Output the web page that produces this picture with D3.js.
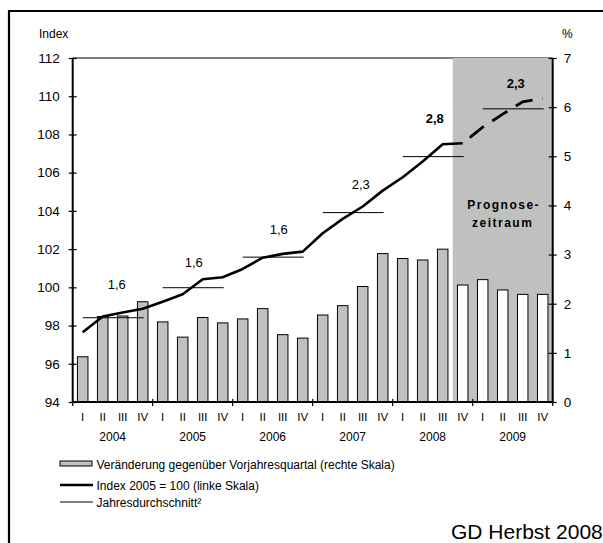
<!DOCTYPE html>
<html><head><meta charset="utf-8">
<script src="https://cdn.jsdelivr.net/npm/d3@7"></script>
<style>
html,body{margin:0;padding:0;background:#fff;}
svg{display:block;font-family:"Liberation Sans",Arial,sans-serif;}
</style></head>
<body><svg id="c" width="603" height="543"></svg>
<script>
// ---- data ----
const quarterLabels = ["I","II","III","IV"];
const years = ["2004","2005","2006","2007","2008","2009"];
const growth = [0.92,1.74,1.75,2.04, 1.63,1.32,1.72,1.61, 1.69,1.90,1.37,1.30,
                1.77,1.96,2.35,3.02, 2.92,2.89,3.11,2.38, 2.49,2.28,2.19,2.19];
const indexValues = [97.65,98.47,98.68,98.88, 99.25,99.64,100.42,100.53, 100.96,101.55,101.75,101.87,
                     102.83,103.58,104.23,105.06, 105.76,106.58,107.49,107.54, 108.38,109.06,109.71,109.89];
const forecastStart = 19; // 2008 IV
const annualAvg = [98.41,99.98,101.58,103.91,106.84,109.34];
const annualGrowth = ["1,6","1,6","1,6","2,3","2,8","2,3"];
const annualBold = [false,false,false,false,true,true];
const labelLevel = [100.18,101.30,103.05,105.42,108.88,110.71];
const labelNudge = [4,1,6,8,2,3];
const leftTicks = [94,96,98,100,102,104,106,108,110,112];
const rightTicks = [0,1,2,3,4,5,6,7];

// ---- layout ----
const svg = d3.select("#c");
const L = 72.7, R = 552.7, T = 58, B = 402;
const n = growth.length;
const x = d3.scaleBand().domain(d3.range(n)).range([L,R]).paddingInner(0.475).paddingOuter(0.2375);
const cx = i => x(i) + x.bandwidth()/2;
const yL = d3.scaleLinear().domain([94,112]).range([B,T]);
const yR = d3.scaleLinear().domain([0,7]).range([B,T]);

// outer frame
svg.append("line").attr("x1",9).attr("x2",603).attr("y1",11).attr("y2",11).attr("stroke","#000").attr("stroke-width",2.2);
svg.append("line").attr("x1",9).attr("x2",9).attr("y1",10).attr("y2",543).attr("stroke","#000").attr("stroke-width",2.2);

// top plot border
svg.append("line").attr("x1",L).attr("x2",R).attr("y1",T).attr("y2",T).attr("stroke","#000").attr("stroke-width",1.2);

// forecast shading
const shadeX = x(forecastStart) - x.step()*x.paddingInner()/2;
svg.append("rect").attr("x",shadeX).attr("y",T).attr("width",R-shadeX).attr("height",B-T).attr("fill","#c0c0c0");

svg.append("text").attr("x",(shadeX+R)/2+1).attr("y",209).attr("text-anchor","middle")
  .attr("font-size",12).attr("font-weight","bold").attr("letter-spacing",1.5).text("Prognose-");
svg.append("text").attr("x",(shadeX+R)/2).attr("y",227).attr("text-anchor","middle")
  .attr("font-size",12).attr("font-weight","bold").attr("letter-spacing",1.5).text("zeitraum");

// bars
svg.append("g").selectAll("rect").data(growth).join("rect")
  .attr("x",(d,i)=>x(i)).attr("width",x.bandwidth())
  .attr("y",d=>yR(d)).attr("height",d=>B-yR(d))
  .attr("fill",(d,i)=>i>=forecastStart?"#fff":"#c0c0c0")
  .attr("stroke","#000").attr("stroke-width",1);

// annual averages
svg.append("g").selectAll("line").data(annualAvg).join("line")
  .attr("x1",(d,i)=>cx(i*4)).attr("x2",(d,i)=>cx(i*4+3)+1)
  .attr("y1",d=>yL(d)).attr("y2",d=>yL(d))
  .attr("stroke","#000").attr("stroke-width",1);

// index line
const line = d3.line().x(d=>cx(d.i)).y(d=>yL(d.v));
const pts = indexValues.map((v,i)=>({i,v}));
svg.append("path").attr("d",line(pts.slice(0,forecastStart+1)))
  .attr("fill","none").attr("stroke","#000").attr("stroke-width",2.6).attr("stroke-linejoin","round");
svg.append("path").attr("d",line(pts.slice(forecastStart)))
  .attr("fill","none").attr("stroke","#000").attr("stroke-width",2.8)
  .attr("stroke-dasharray","18,10").attr("stroke-dashoffset",19);

// annual growth labels
svg.append("g").selectAll("text").data(annualGrowth).join("text")
  .attr("x",(d,i)=>(cx(i*4)+cx(i*4+3))/2+labelNudge[i])
  .attr("y",(d,i)=>yL(labelLevel[i])+5)
  .attr("text-anchor","middle").attr("font-size",13)
  .attr("font-weight",(d,i)=>annualBold[i]?"bold":"normal").text(d=>d);

// left axis
const gl = svg.append("g").attr("transform",`translate(${L},0)`)
  .call(d3.axisLeft(yL).tickValues(leftTicks).tickSize(4).tickPadding(9).tickFormat(d3.format("d")));
gl.select(".domain").remove();
gl.selectAll(".tick line").attr("x1",-4).attr("x2",4).attr("stroke-width",1.2);
gl.selectAll("text").attr("font-size",13.5).attr("font-family","Liberation Sans, Arial, sans-serif").attr("fill","#000");
svg.append("line").attr("x1",L).attr("x2",L).attr("y1",T).attr("y2",B).attr("stroke","#000").attr("stroke-width",2);

// right axis
const gr = svg.append("g").attr("transform",`translate(${R},0)`)
  .call(d3.axisRight(yR).tickValues(rightTicks).tickSize(4).tickPadding(7).tickFormat(d3.format("d")));
gr.select(".domain").remove();
gr.selectAll(".tick line").attr("x1",-4).attr("x2",4).attr("stroke-width",1.2);
gr.selectAll("text").attr("font-size",13.5).attr("font-family","Liberation Sans, Arial, sans-serif").attr("fill","#000");
svg.append("line").attr("x1",R).attr("x2",R).attr("y1",T).attr("y2",B).attr("stroke","#000").attr("stroke-width",2);

// x axis
svg.append("line").attr("x1",L).attr("x2",R).attr("y1",B).attr("y2",B).attr("stroke","#000").attr("stroke-width",2);
const yearEdges = d3.range(years.length+1).map(k=>k*4);
svg.append("g").selectAll("line").data(yearEdges).join("line")
  .attr("x1",k=>k<n?x(k)-x.step()*x.paddingInner()/2:R).attr("x2",k=>k<n?x(k)-x.step()*x.paddingInner()/2:R)
  .attr("y1",B-3).attr("y2",B+4).attr("stroke","#000").attr("stroke-width",1.2);
svg.append("g").selectAll("text").data(d3.range(n)).join("text")
  .attr("x",i=>cx(i)).attr("y",421).attr("text-anchor","middle").attr("font-size",11.5)
  .text(i=>quarterLabels[i%4]);
svg.append("g").selectAll("text").data(years).join("text")
  .attr("x",(d,k)=>(cx(k*4)+cx(k*4+3))/2).attr("y",441).attr("text-anchor","middle").attr("font-size",12)
  .text(d=>d);

// axis titles
svg.append("text").attr("x",39).attr("y",38).attr("font-size",12).text("Index");
svg.append("text").attr("x",562).attr("y",38).attr("font-size",12).text("%");

// legend
const lg = svg.append("g");
lg.append("rect").attr("x",60).attr("y",461).attr("width",32).attr("height",5).attr("fill","#c0c0c0").attr("stroke","#000").attr("stroke-width",1);
lg.append("text").attr("x",96.5).attr("y",468.5).attr("font-size",12).text("Veränderung gegenüber Vorjahresquartal (rechte Skala)");
lg.append("line").attr("x1",60).attr("x2",93).attr("y1",485).attr("y2",485).attr("stroke","#000").attr("stroke-width",2.6);
lg.append("text").attr("x",96.5).attr("y",489.5).attr("font-size",12).text("Index 2005 = 100 (linke Skala)");
lg.append("line").attr("x1",60).attr("x2",93).attr("y1",502).attr("y2",502).attr("stroke","#000").attr("stroke-width",1);
lg.append("text").attr("x",96.5).attr("y",506.5).attr("font-size",12).text("Jahresdurchschnitt²");

// source
svg.append("text").attr("x",451).attr("y",539).attr("font-size",21).text("GD Herbst 2008");
</script></body></html>
